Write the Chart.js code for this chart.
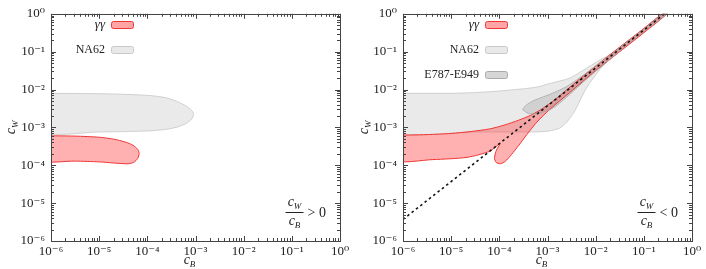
<!DOCTYPE html>
<html>
<head>
<meta charset="utf-8">
<script src="https://cdn.jsdelivr.net/npm/chart.js@4.4.0/dist/chart.umd.min.js"></script>
<style>
  body { margin: 0; background: #fff; }
  .panel { position: absolute; top: 0; width: 353px; height: 269px; }
</style>
</head>
<body>
<div class="panel" style="left:0"><canvas id="left-chart" width="353" height="269"></canvas></div>
<div class="panel" style="left:353px"><canvas id="right-chart" width="353" height="269"></canvas></div>
<script>
// every number below is a log10 exponent
const decades = [-6, -5, -4, -3, -2, -1, 0];

// left panel (cW/cB > 0)
const na62LeftX = [-6.2, -5, -4.4, -3.94, -3.6, -3.375, -3.2, -3.08, -3.04, -3.08, -3.2, -3.375, -3.6, -3.94, -4.5, -5, -6.2, -6.2];
const na62LeftY = [-2.10, -2.11, -2.13, -2.16, -2.22, -2.32, -2.43, -2.55, -2.65, -2.78, -2.9, -2.99, -3.05, -3.09, -3.11, -3.12, -3.12, -2.10];
const gamLeftX = [-6.2, -5.5, -5, -4.7, -4.45, -4.3, -4.2, -4.17, -4.2, -4.28, -4.4, -4.7, -5, -5.5, -6.2, -6.2];
const gamLeftY = [-3.22, -3.23, -3.26, -3.31, -3.39, -3.47, -3.58, -3.69, -3.82, -3.92, -3.96, -3.94, -3.91, -3.89, -3.87, -3.22];

// right panel (cW/cB < 0)
const na62RightX = [-6.2, -5, -4.5, -4, -3.5, -3.2, -2.95, -2.54, -2.27, -1.91, -1.7, -1.3, -1.0, -0.6,
  -0.5, -1.0, -1.4, -1.75, -1.9, -2.05, -2.2, -2.33, -2.45, -2.6, -2.75, -3.0, -3.3, -4.5, -6.2, -6.2];
const na62RightY = [-2.10, -2.10, -2.08, -2.04, -1.98, -1.93, -1.84, -1.70, -1.50, -1.22, -1.07, -0.68, -0.38, 0.02,
  0.02, -0.48, -0.88, -1.25, -1.45, -1.70, -1.98, -2.30, -2.60, -2.86, -3.02, -3.10, -3.12, -3.12, -3.12, -2.10];

const e787X = [-3.52, -3.45, -3.3, -3.1, -2.9, -2.6, -2.3, -2.0, -1.7, -1.3, -1.0, -0.6,
  -0.52, -1.0, -1.3, -1.7, -2.0, -2.3, -2.6, -2.9, -3.2, -3.4, -3.52];
const e787Y = [-2.53, -2.42, -2.30, -2.20, -2.10, -1.92, -1.66, -1.38, -1.10, -0.70, -0.41, 0.0,
  0.0, -0.46, -0.76, -1.20, -1.52, -1.85, -2.20, -2.50, -2.64, -2.63, -2.53];

const gamRightX = [-6.2, -5.5, -5, -4.6, -4.2, -3.9, -3.6, -3.35, -3.1, -2.8, -2.5, -2.0, -1.5, -1.0, -0.6,
  -0.52, -1.0, -1.5, -2.0, -2.54, -2.95, -3.22, -3.43, -3.6, -3.75, -3.88, -3.98, -4.07, -4.1, -4.06, -3.98,
  -4.2, -4.67, -5.38, -6.2, -6.2];
const gamRightY = [-3.21, -3.19, -3.16, -3.11, -3.04, -2.94, -2.81, -2.68, -2.50, -2.22, -1.90, -1.38, -0.88, -0.39, 0.01,
  0.0, -0.50, -1.00, -1.50, -2.08, -2.52, -2.86, -3.19, -3.48, -3.72, -3.90, -3.96, -3.92, -3.80, -3.60, -3.42,
  -3.63, -3.79, -3.85, -3.87, -3.21];

const zeroLineX = [-6, -0.57];
const zeroLineY = [-5.43, 0];

const leftLegend = ['γγ', 'NA62'];
const rightLegend = ['γγ', 'NA62', 'E787-E949'];

const SERIF = '"Liberation Serif", "DejaVu Serif", serif';
const redFill = 'rgba(255, 60, 60, 0.4)';
const redLine = '#f03535';
const na62Fill = 'rgba(128, 128, 128, 0.17)';
const na62Line = '#c6c6c6';
const e787Fill = 'rgba(110, 110, 110, 0.2)';
const e787Line = '#a8a8a8';

const swatch = {
    'γγ': ['#ffa5a5', redLine],
    'NA62': ['#e9e9e9', '#c8c8c8'],
    'E787-E949': ['#d6d6d6', '#aaaaaa']
};

function toPoints(xs, ys) {
    return xs.map((e, i) => ({x: 10 ** e, y: 10 ** ys[i]}));
}

const supMap = {'-': '⁻', '0': '⁰', '1': '¹', '2': '²', '3': '³', '4': '⁴', '5': '⁵', '6': '⁶', '7': '⁷', '8': '⁸', '9': '⁹'};
function powLabel(v) {
    const e = Math.round(Math.log10(v));
    return '10' + String(e).split('').map(c => supMap[c]).join('');
}

function mathC(ctx, sub, cx, cy) {
    ctx.textAlign = 'left';
    ctx.textBaseline = 'alphabetic';
    ctx.font = `italic 14px ${SERIF}`;
    const w1 = ctx.measureText('c').width;
    ctx.font = `italic 9px ${SERIF}`;
    const w2 = ctx.measureText(sub).width;
    const x0 = cx - (w1 + w2) / 2;
    ctx.font = `italic 14px ${SERIF}`;
    ctx.fillText('c', x0, cy + 3);
    ctx.font = `italic 9px ${SERIF}`;
    ctx.fillText(sub, x0 + w1, cy + 6);
}

const panelDecor = {
    id: 'panelDecor',
    afterDatasetsDraw(chart, args, opts) {
        const {ctx, chartArea: a, scales: {x, y}} = chart;
        ctx.save();
        ctx.strokeStyle = '#444';
        ctx.lineWidth = 1;
        ctx.beginPath();
        for (const e of decades) {
            for (let m = 1; m <= 9; m++) {
                if (e === 0 && m > 1) break;
                const v = m * 10 ** e;
                const len = m === 1 ? 5 : 3;
                const px = Math.round(x.getPixelForValue(v)) + 0.5;
                ctx.moveTo(px, a.bottom); ctx.lineTo(px, a.bottom - len);
                ctx.moveTo(px, a.top); ctx.lineTo(px, a.top + len);
                const py = Math.round(y.getPixelForValue(v)) + 0.5;
                ctx.moveTo(a.left, py); ctx.lineTo(a.left + len, py);
                ctx.moveTo(a.right, py); ctx.lineTo(a.right - len, py);
            }
        }
        ctx.stroke();
        ctx.strokeRect(Math.round(a.left) + 0.5, Math.round(a.top) + 0.5,
            Math.round(a.right - a.left), Math.round(a.bottom - a.top));

        // legend
        opts.labels.forEach((label, i) => {
            const ly = 25 + i * 25;
            ctx.fillStyle = '#222';
            ctx.textAlign = 'right';
            ctx.textBaseline = 'middle';
            ctx.font = (label === 'γγ' ? 'italic 13px ' : '12px ') + SERIF;
            ctx.fillText(label, opts.legendX, ly);
            const [f, s] = swatch[label];
            ctx.beginPath();
            ctx.roundRect(opts.legendX + 6.5, ly - 3.5, 22, 7, 2);
            ctx.fillStyle = f;
            ctx.fill();
            ctx.strokeStyle = s;
            ctx.stroke();
        });

        ctx.fillStyle = '#222';
        // axis titles
        mathC(ctx, 'B', (a.left + a.right) / 2 - 6, 261);
        ctx.save();
        ctx.translate(12, (a.top + a.bottom) / 2);
        ctx.rotate(-Math.PI / 2);
        mathC(ctx, 'W', 0, 0);
        ctx.restore();

        // sign annotation
        const fx = a.right - 45.5;
        mathC(ctx, 'W', fx, 203);
        ctx.beginPath();
        ctx.moveTo(fx - 9, 212.5);
        ctx.lineTo(fx + 9, 212.5);
        ctx.strokeStyle = '#222';
        ctx.stroke();
        mathC(ctx, 'B', fx, 222);
        ctx.font = `14px ${SERIF}`;
        ctx.textAlign = 'left';
        ctx.textBaseline = 'middle';
        ctx.fillText(opts.relation + ' 0', fx + 13, 213);
        ctx.restore();
    }
};

function shapeSet(xs, ys, fill, line, width) {
    return {
        data: toPoints(xs, ys),
        showLine: true,
        fill: 'shape',
        backgroundColor: fill,
        borderColor: line,
        borderWidth: width,
        tension: 0.25,
        pointRadius: 0
    };
}

function makeOptions(axisWidth, padRight, legendX, labels, relation) {
    const tickFont = {family: SERIF, size: 13};
    return {
        responsive: false,
        animation: false,
        layout: {padding: {top: 10, right: padRight, left: 0, bottom: 0}},
        plugins: {
            legend: {display: false},
            tooltip: {enabled: false},
            panelDecor: {legendX: legendX, labels: labels, relation: relation}
        },
        scales: {
            x: {
                type: 'logarithmic',
                min: 1e-6, max: 1,
                grid: {display: false, drawTicks: false},
                border: {display: false},
                afterBuildTicks: s => { s.ticks = decades.map(e => ({value: 10 ** e})); },
                afterFit: s => { s.height = 28; },
                ticks: {callback: powLabel, font: tickFont, color: '#222', padding: 3, maxRotation: 0, autoSkip: false}
            },
            y: {
                type: 'logarithmic',
                min: 1e-6, max: 1,
                grid: {display: false, drawTicks: false},
                border: {display: false},
                afterBuildTicks: s => { s.ticks = decades.map(e => ({value: 10 ** e})); },
                afterFit: s => { s.width = axisWidth; },
                ticks: {callback: powLabel, font: tickFont, color: '#222', padding: 6, autoSkip: false}
            }
        }
    };
}

new Chart(document.getElementById('left-chart'), {
    type: 'scatter',
    data: {
        datasets: [
            shapeSet(gamLeftX, gamLeftY, redFill, redLine, 1),
            shapeSet(na62LeftX, na62LeftY, na62Fill, na62Line, 0.8)
        ]
    },
    options: makeOptions(51, 13, 105, leftLegend, '>'),
    plugins: [panelDecor]
});

new Chart(document.getElementById('right-chart'), {
    type: 'scatter',
    data: {
        datasets: [
            {
                data: toPoints(zeroLineX, zeroLineY),
                showLine: true,
                borderColor: '#111',
                borderWidth: 1.6,
                borderDash: [2.5, 3],
                pointRadius: 0,
                fill: false
            },
            shapeSet(e787X, e787Y, e787Fill, e787Line, 0.8),
            shapeSet(gamRightX, gamRightY, redFill, redLine, 1),
            shapeSet(na62RightX, na62RightY, na62Fill, na62Line, 0.8)
        ]
    },
    options: makeOptions(50, 14, 126, rightLegend, '<'),
    plugins: [panelDecor]
});
</script>
</body>
</html>
